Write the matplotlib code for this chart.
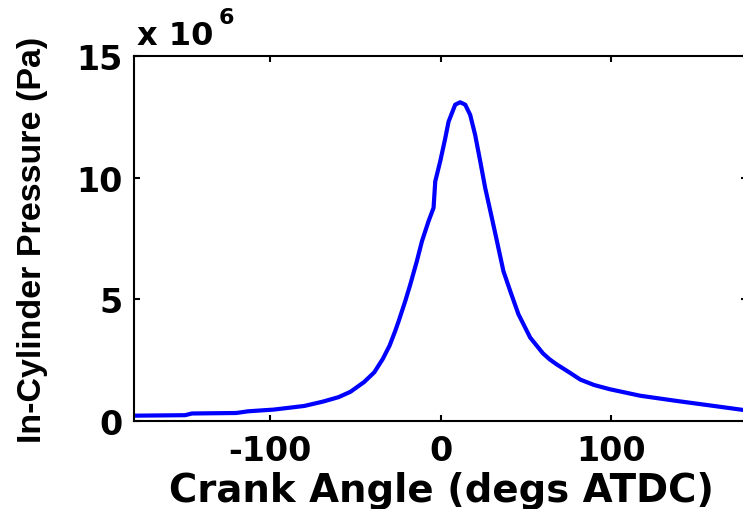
import matplotlib
matplotlib.use("Agg")
import matplotlib.pyplot as plt

# crank angle (deg ATDC) and in-cylinder pressure (MPa)
crank_angle = [-180, -150, -146, -120, -113, -98, -80, -69, -60, -53, -45,
               -39, -34, -30, -26.7, -24.7, -20.8, -17.9, -14, -11, -7.2,
               -4.2, -3.2, -0.3, 2.6, 4.6, 8.5, 11.4, 14.4, 17.3, 20.2, 23.2,
               26.1, 30, 33, 36.8, 40.8, 45.6, 52.5, 60, 64, 68, 75, 82, 90,
               99, 117, 138, 156, 177, 180]
pressure_mpa = [0.22, 0.24, 0.31, 0.33, 0.40, 0.47, 0.62, 0.80, 0.98, 1.2,
                1.6, 2.0, 2.55, 3.1, 3.7, 4.1, 4.93, 5.6, 6.57, 7.39, 8.2,
                8.76, 9.85, 10.67, 11.6, 12.3, 13.0, 13.1, 13.0, 12.58, 11.76,
                10.67, 9.58, 8.35, 7.39, 6.16, 5.34, 4.39, 3.43, 2.78, 2.53,
                2.33, 2.02, 1.7, 1.48, 1.31, 1.04, 0.83, 0.66, 0.46, 0.43]

x_ticks = [-100, 0, 100]
y_ticks = [0, 5, 10, 15]

plt.rcParams["axes.unicode_minus"] = False

fig = plt.figure(figsize=(7.43, 5.10), dpi=100)
ax = fig.add_axes([0.1803, 0.1725, 0.8257, 0.7157])

pressure_pa = [p * 1e6 for p in pressure_mpa]
ax.plot(crank_angle, pressure_pa, color=(0, 0, 1), lw=3, solid_joinstyle="round")

ax.set_xlim(-180, 180)
ax.set_ylim(0, 15e6)
ax.set_xticks(x_ticks)
ax.set_xticklabels([str(t) for t in x_ticks])
ax.set_yticks([t * 1e6 for t in y_ticks])
ax.set_yticklabels([str(t) for t in y_ticks])

for side in ax.spines.values():
    side.set_linewidth(1.5)
ax.tick_params(direction="in", length=4.5, width=1.5, top=True, right=True,
               labelsize=24)
ax.tick_params(axis="x", pad=9)
ax.tick_params(axis="y", pad=8)
for lab in ax.get_xticklabels() + ax.get_yticklabels():
    lab.set_fontweight("bold")
    lab.set_family("DejaVu Sans")

ax.set_xlabel("Crank Angle (degs ATDC)", fontsize=27.8, fontweight="bold",
              family="DejaVu Sans", va="baseline")
ax.xaxis.set_label_coords(0.502, -0.219)
ax.set_ylabel("In-Cylinder Pressure (Pa)", fontsize=24.5, fontweight="bold",
              family="Liberation Sans", va="center")
ax.yaxis.set_label_coords(-0.165, 0.5)

# exponent note like MATLAB's
ax.text(0.005, 1.033, "x 10", transform=ax.transAxes, fontsize=23,
        fontweight="bold", family="DejaVu Sans", va="baseline", ha="left")
ax.text(0.138, 1.09, "6", transform=ax.transAxes, fontsize=16,
        fontweight="bold", family="DejaVu Sans", va="baseline", ha="left")

fig.savefig("out.png", dpi=100)
